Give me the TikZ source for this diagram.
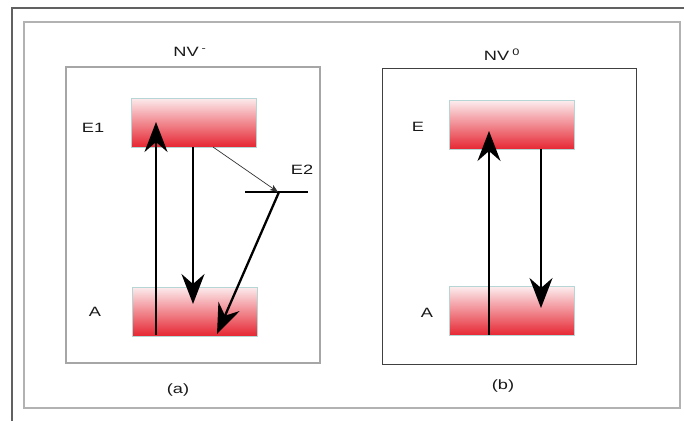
\documentclass[tikz,border=0pt]{standalone}
\usepackage{fontspec}
\setmainfont{Liberation Sans}
\usetikzlibrary{arrows.meta}
\definecolor{levelTop}{RGB}{252,236,238}
\definecolor{levelBot}{RGB}{230,38,50}
\definecolor{levelEdge}{RGB}{182,214,214}
\definecolor{txt}{RGB}{25,25,25}
\begin{document}
\begin{tikzpicture}[x=1pt,y=-1pt,
  level/.style={draw=levelEdge, line width=1pt, top color=levelTop, bottom color=levelBot,
    minimum width=125pt, minimum height=49pt, inner sep=0pt},
  lbl/.style={text=txt, font=\fontsize{13.5}{15}\selectfont, inner sep=0pt},
  bigarrow/.style={line width=2.3pt, -{Stealth[length=30pt,width=23pt,inset=10pt]}},
  thinarrow/.style={line width=0.7pt, draw=black!80, -{Stealth[length=8pt,width=6pt,inset=2pt]}},
  panelA/.style={draw=black!35, line width=1.6pt},
  panelB/.style={draw=black!75, line width=1pt}]
\useasboundingbox (0,0) rectangle (684,421);
\fill[white] (0,0) rectangle (684,421);
% outer frame lines
\draw[black!62, line width=1.5pt] (12,421) -- (12,8) -- (684,8);
\draw[black!30, line width=1.8pt] (24,22) rectangle (680,408);
% panels
\draw[panelA] (66,67) rectangle (320,363);
\draw[panelB] (382,68) rectangle (636,364);
% titles
\node[lbl] (tA) at (190,52) {\scalebox{1.35}[1]{NV\,\textsuperscript{-}}};
\node[lbl] (tB) at (502,55) {\scalebox{1.35}[1]{NV\,\textsuperscript{0}}};
\node[lbl] (cA) at (178,390) {\scalebox{1.35}[1]{(a)}};
\node[lbl] (cB) at (503,386) {\scalebox{1.35}[1]{(b)}};
% panel (a) levels
\node[level] (E1) at (194,122.5) {};
\node[level] (A1) at (195,311.5) {};
\node[lbl] (lE1) at (93,128) {\scalebox{1.35}[1]{E1}};
\node[lbl] (lA1) at (95,312) {\scalebox{1.35}[1]{A}};
\coordinate (e2l) at (245,192);
\coordinate (e2r) at (308,192);
\coordinate (e2) at (279,192);
\draw[line width=2.2pt] (e2l) -- (e2r);
\node[lbl] (lE2) at (302,170) {\scalebox{1.35}[1]{E2}};
\coordinate (upA0) at (156,335);
\coordinate (upA1) at (156,122);
\coordinate (dnA0) at (193,147);
\coordinate (dnA1) at (193,304);
\coordinate (isc0) at (213,147);
\coordinate (isc1) at (278,192);
\coordinate (dgA1) at (217,334);
\draw[bigarrow] (upA0) -- (upA1);
\draw[bigarrow] (dnA0) -- (dnA1);
\draw[thinarrow] (isc0) -- (isc1);
\draw[bigarrow] (e2) -- (dgA1);
% panel (b) levels
\node[level] (E) at (512,125) {};
\node[level] (A2) at (512,311) {};
\node[lbl] (lE) at (418,127) {\scalebox{1.35}[1]{E}};
\node[lbl] (lA2) at (427,313) {\scalebox{1.35}[1]{A}};
\coordinate (upB0) at (489,335);
\coordinate (upB1) at (489,131);
\coordinate (dnB0) at (541,149);
\coordinate (dnB1) at (541,308);
\draw[bigarrow] (upB0) -- (upB1);
\draw[bigarrow] (dnB0) -- (dnB1);
\end{tikzpicture}
\end{document}
